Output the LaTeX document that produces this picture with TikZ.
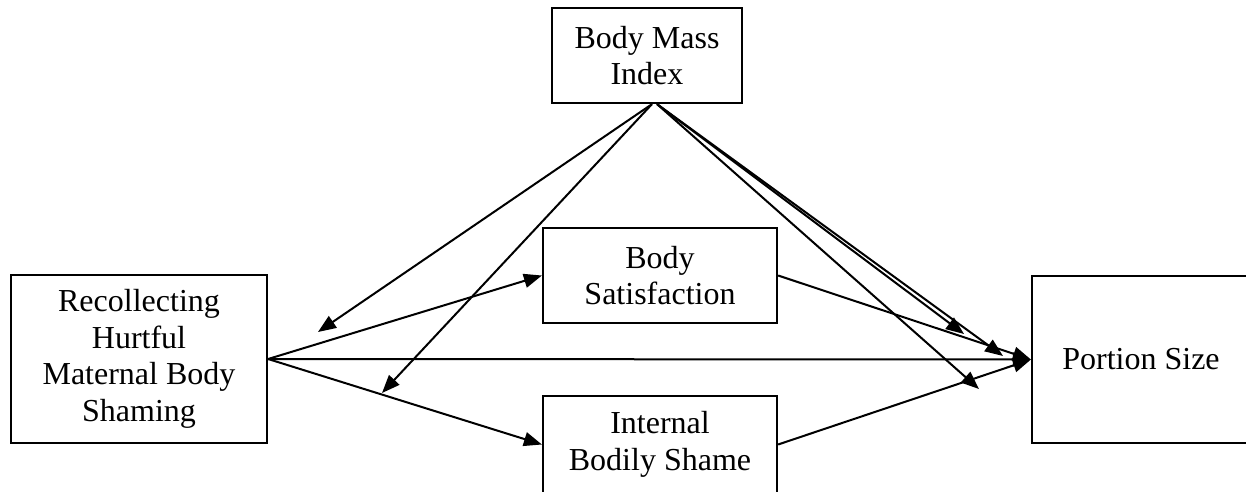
\documentclass[tikz,border=0pt]{standalone}
\usepackage{fontspec}
\setmainfont{Liberation Serif}
\usetikzlibrary{arrows.meta}
\begin{document}
\begin{tikzpicture}[x=1pt,y=-1pt,
  box/.style={draw,line width=2.2pt,align=center,inner sep=0pt,font=\fontsize{32}{36.5}\selectfont},
  arr/.style={line width=2pt,-{Triangle[length=18pt,width=14pt]}}]
\useasboundingbox (0,0) rectangle (1246,491);
\node[box,minimum width=256pt,minimum height=168pt] (rec) at (139,359) {Recollecting\\Hurtful\\Maternal Body\\Shaming};
\node[box,minimum width=190pt,minimum height=95pt] (bmi) at (647,55.5) {Body Mass\\Index};
\node[box,minimum width=234pt,minimum height=95pt] (bs) at (660,275.5) {Body\\Satisfaction};
\node[box,minimum width=234pt,minimum height=97pt] (ibs) at (660,444.5) {Internal\\Bodily Shame};
\node[box,minimum width=218pt,minimum height=167pt] (ps) at (1141,359.5) {Portion Size};
\coordinate (m1) at (318,332);
\coordinate (m2) at (382,393);
\coordinate (m3) at (964,334);
\coordinate (m4) at (1003,356);
\coordinate (m5) at (979,389);
\draw[arr] (rec.east) -- (bs.west);
\draw[arr] (rec.east) -- (ibs.west);
\draw[arr] (rec.east) -- (ps.west);
\draw[arr] (bs.east) -- (ps.west);
\draw[arr] (ibs.east) -- (ps.west);
\draw[arr] ([xshift=5pt]bmi.south) -- (m1);
\draw[arr] ([xshift=5pt]bmi.south) -- (m2);
\draw[arr] ([xshift=10pt]bmi.south) -- (m3);
\draw[arr] ([xshift=10pt]bmi.south) -- (m4);
\draw[arr] ([xshift=10pt]bmi.south) -- (m5);
\end{tikzpicture}
\end{document}
